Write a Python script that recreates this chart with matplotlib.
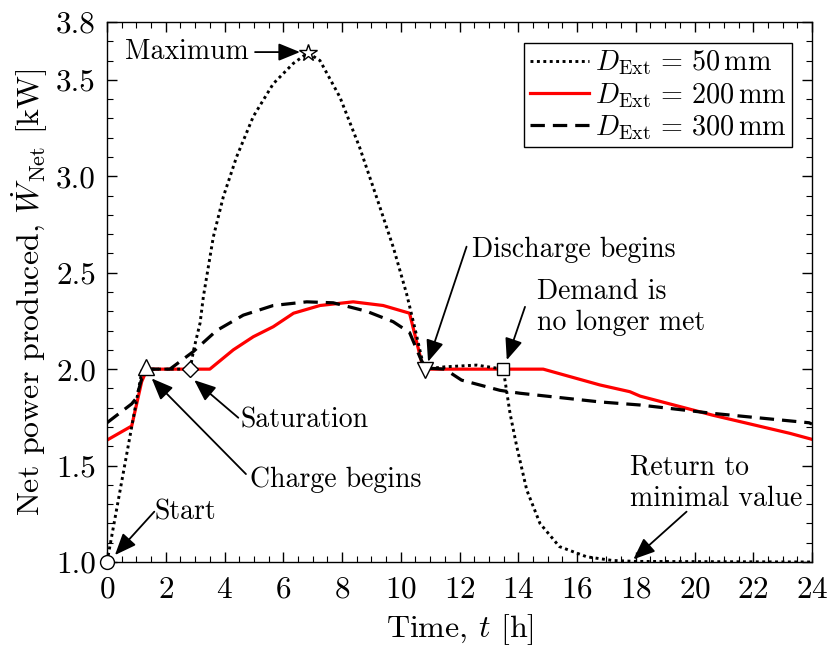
import matplotlib
matplotlib.use("Agg")
import matplotlib.pyplot as plt
from matplotlib.ticker import MultipleLocator, FormatStrFormatter

plt.rcParams['font.family'] = 'serif'
plt.rcParams['font.serif'] = ['cmr10', 'DejaVu Serif']
plt.rcParams['mathtext.fontset'] = 'cm'
plt.rcParams['axes.formatter.use_mathtext'] = True
plt.rcParams['axes.unicode_minus'] = False

# ---- data ----
t_50 = [0, 1.2, 1.5, 2.14, 2.83, 2.95, 3.17, 3.28, 3.62, 3.96, 4.41, 4.98, 5.66, 6.34, 6.84,
        7.25, 7.93, 8.6, 9.18, 9.75, 10.2, 10.5, 10.8, 11.5, 12.58, 13.49, 13.72, 13.95,
        14.29, 14.74, 15.4, 16.33, 17.2, 18.0, 24]
W_50 = [1.0, 2.0, 2.0, 2.0, 2.0, 2.10, 2.24, 2.375, 2.686, 2.894, 3.10, 3.31, 3.48, 3.585, 3.64,
        3.60, 3.41, 3.15, 2.89, 2.63, 2.39, 2.2, 2.0, 2.012, 2.021, 2.0, 1.771, 1.598,
        1.373, 1.20, 1.08, 1.027, 1.008, 1.003, 1.0]

t_200 = [0, 0.84, 1.18, 1.35, 1.5, 3.34, 3.5, 4.3, 4.98, 5.66, 6.35, 7.25, 8.38, 9.4, 10.3,
         10.77, 14.85, 16.78, 17.8, 18.15, 20.6, 23.25, 24]
W_200 = [1.632, 1.705, 1.935, 1.995, 2.0, 2.0, 2.0, 2.10, 2.168, 2.22, 2.29, 2.33, 2.349, 2.33, 2.29,
         2.0, 2.0, 1.918, 1.883, 1.86, 1.762, 1.667, 1.636]

t_300 = [0, 0.84, 1.0, 1.2, 1.35, 1.57, 2.14, 2.93, 3.73, 4.64, 5.66, 6.8, 7.7, 8.84, 9.74,
         10.3, 10.66, 10.83, 11.5, 12.07, 13.38, 14.06, 16.78, 18.15, 20.6, 23.9, 24]
W_300 = [1.722, 1.82, 1.85, 1.96, 2.0, 2.0, 2.0, 2.09, 2.2, 2.28, 2.33, 2.349, 2.344, 2.30, 2.246,
         2.19, 2.06, 2.006, 2.0, 1.943, 1.89, 1.875, 1.83, 1.814, 1.771, 1.722, 1.715]

series_labels = [r'$D_{\mathrm{Ext}}\,=\,50\,\mathrm{mm}$',
                 r'$D_{\mathrm{Ext}}\,=\,200\,\mathrm{mm}$',
                 r'$D_{\mathrm{Ext}}\,=\,300\,\mathrm{mm}$']

marker_t = [0.0, 1.32, 2.83, 6.84, 10.83, 13.49]
marker_W = [1.0, 2.01, 2.0, 3.64, 1.995, 2.0]
marker_shapes = ['o', '^', 'D', '*', 'v', 's']
marker_sizes = [10, 11, 8, 13, 11, 9]

notes = ['Maximum', 'Discharge begins', 'Demand is\nno longer met', 'Saturation',
         'Charge begins', 'Start', 'Return to\nminimal value']
note_pos = [(0.61, 3.644), (12.43, 2.617), (14.64, 2.319), (4.56, 1.736),
            (4.87, 1.425), (1.63, 1.259), (17.80, 1.407)]
arrow_tail = [(5.04, 3.644), (12.24, 2.635), (14.23, 2.323), (4.47, 1.748),
              (4.73, 1.456), (1.61, 1.261), (19.73, 1.261)]
arrow_tip = [(6.57, 3.644), (10.93, 2.038), (13.61, 2.047), (2.97, 1.943),
             (1.52, 1.952), (0.27, 1.036), (17.92, 1.014)]

x_ticks = list(range(0, 25, 2))
y_ticks = [1.0, 1.5, 2.0, 2.5, 3.0, 3.5, 3.8]

FS = 20
FS_TICK = 22.5
FS_LABEL = 23

fig = plt.figure(figsize=(8.3, 6.5), dpi=100)
ax = fig.add_axes([107/830, 1-562/650, (812-107)/830, (562-22)/650])

ax.plot(t_50, W_50, color='black', lw=2.1, linestyle=(0, (1, 1.2)), label=series_labels[0], zorder=3)
ax.plot(t_200, W_200, color='red', lw=2.3, linestyle='-', label=series_labels[1], zorder=2)
ax.plot(t_300, W_300, color='black', lw=2.3, linestyle=(0, (4.5, 2.5)), label=series_labels[2], zorder=2.5)

for tt, ww, m, s in zip(marker_t, marker_W, marker_shapes, marker_sizes):
    ax.plot([tt], [ww], marker=m, markersize=s, markerfacecolor='white',
            markeredgecolor='black', markeredgewidth=1.0, linestyle='none', zorder=5, clip_on=False)

for txt, p in zip(notes, note_pos):
    ax.text(p[0], p[1], txt, fontsize=FS, ha='left', va='center', linespacing=1.25, zorder=6)

for a, b in zip(arrow_tail, arrow_tip):
    ax.annotate('', xy=b, xytext=a,
                arrowprops=dict(arrowstyle='-|>,head_length=1.1,head_width=0.45',
                                color='black', lw=1.3, shrinkA=0, shrinkB=0,
                                mutation_scale=12), zorder=6)

ax.set_xlim(0, 24)
ax.set_ylim(1.0, 3.8)
ax.set_xticks(x_ticks)
ax.set_yticks(y_ticks)
ax.xaxis.set_minor_locator(MultipleLocator(0.5))
ax.yaxis.set_minor_locator(MultipleLocator(0.1))
ax.yaxis.set_major_formatter(FormatStrFormatter('%.1f'))
ax.tick_params(which='both', direction='in', top=True, right=True, labelsize=FS_TICK)
ax.tick_params(which='major', length=7, width=1.0)
ax.tick_params(which='minor', length=4, width=0.8)
ax.tick_params(axis='x', which='major', pad=10)
ax.tick_params(axis='y', which='major', pad=8)
for sp in ax.spines.values():
    sp.set_linewidth(1.0)

ax.set_xlabel(r'Time, $t$ [h]', fontsize=FS_LABEL, labelpad=6)
ax.set_ylabel(r'Net power produced, $\dot{W}_{\mathrm{Net}}$ [kW]', fontsize=FS_LABEL, labelpad=4)

leg = ax.legend(loc='upper right', bbox_to_anchor=(0.9716, 0.961), fontsize=FS + 0.3,
                frameon=True, fancybox=False, edgecolor='black', framealpha=1,
                handlelength=2.1, handletextpad=0.2, labelspacing=0.12, borderpad=0.2,
                borderaxespad=0)
leg.get_frame().set_linewidth(1.0)

fig.savefig('out.png', dpi=100)
